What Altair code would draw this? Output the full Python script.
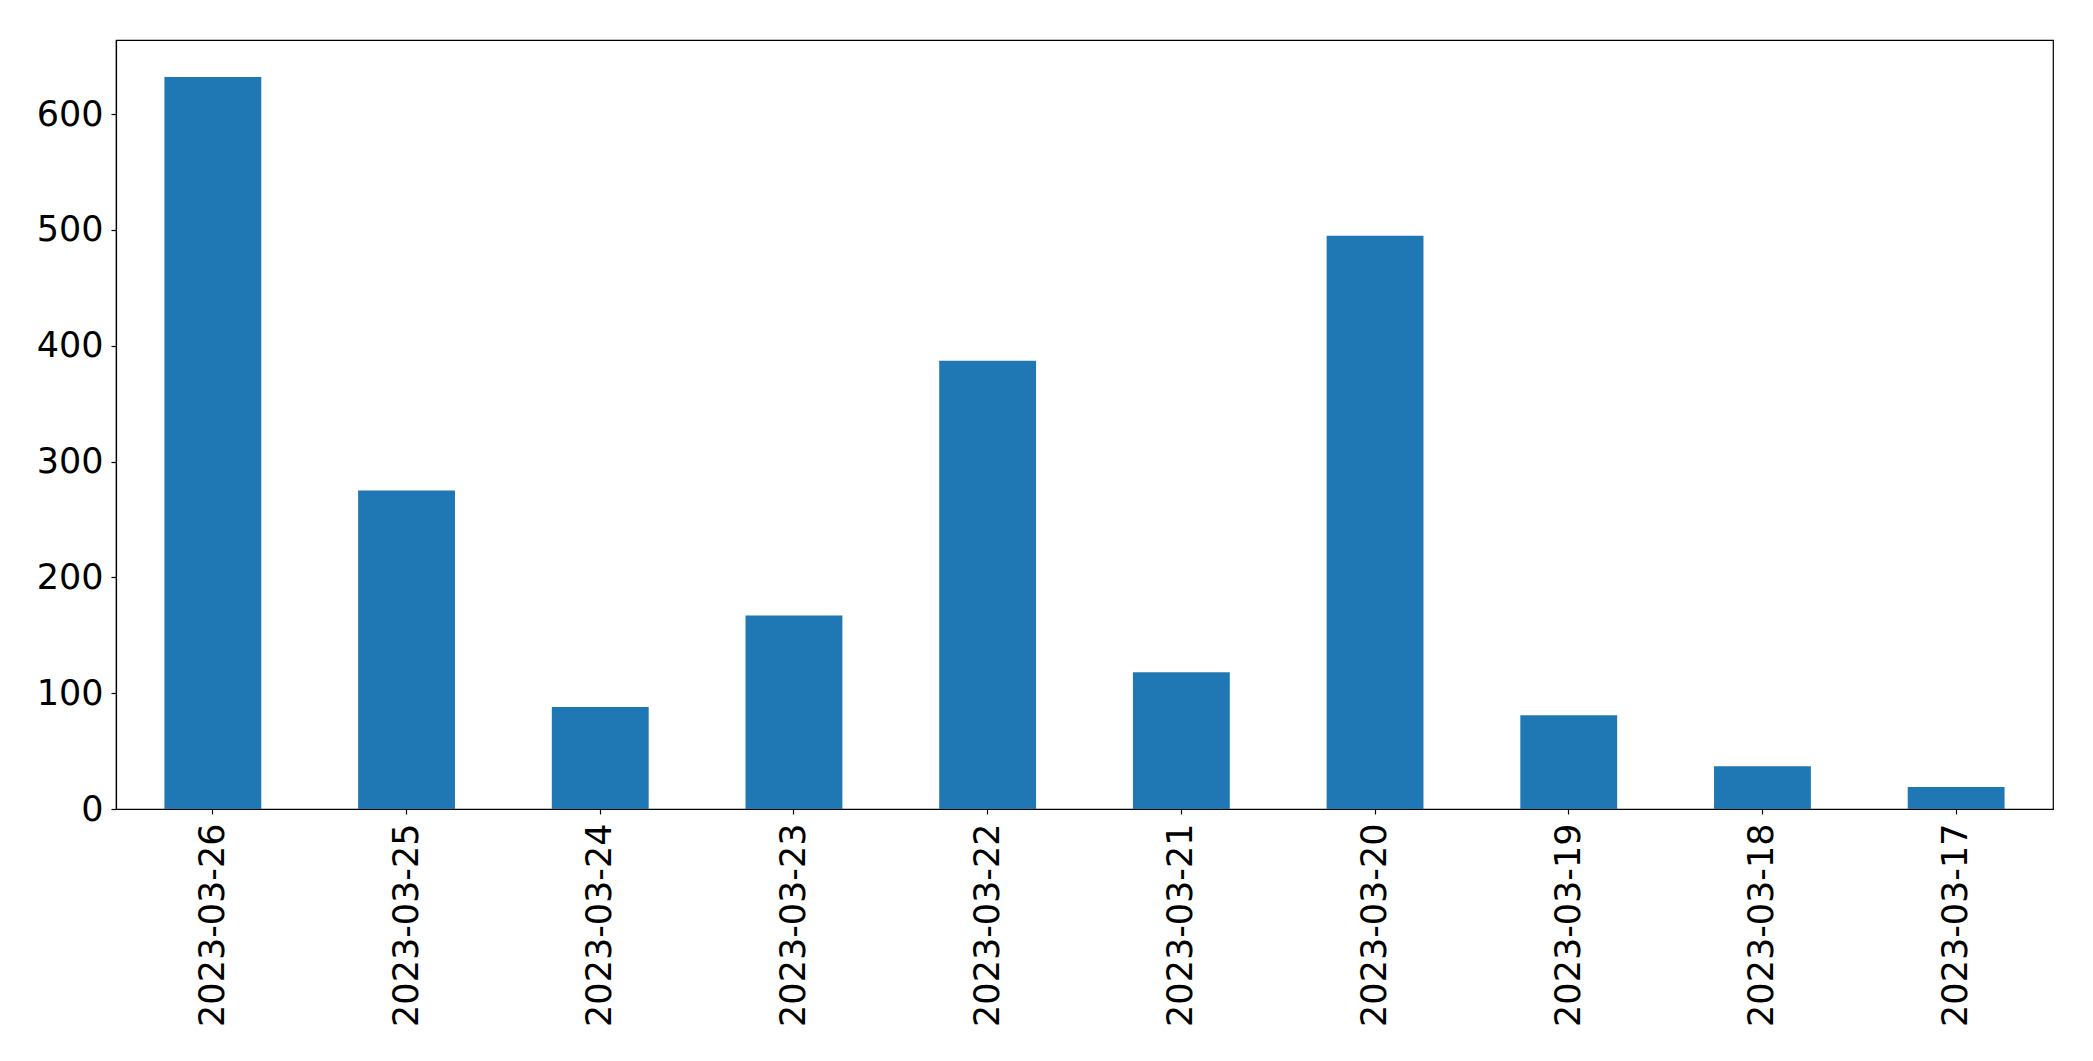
import altair as alt
import pandas as pd

dates = ["2023-03-26", "2023-03-25", "2023-03-24", "2023-03-23", "2023-03-22",
         "2023-03-21", "2023-03-20", "2023-03-19", "2023-03-18", "2023-03-17"]
counts = [632, 275, 88, 167, 387, 118, 495, 81, 37, 19]
y_ticks = [0, 100, 200, 300, 400, 500, 600]

df = pd.DataFrame({"date": dates, "count": counts})

FONT = "DejaVu Sans"
FS = 35

chart = alt.Chart(df).mark_bar(color="#1f77b4").encode(
    x=alt.X("date:N", sort=dates, title=None,
            scale=alt.Scale(paddingInner=0.5, paddingOuter=0.25),
            axis=alt.Axis(labelAngle=270, labelFontSize=FS, labelFont=FONT,
                          labelColor="black", tickColor="black", tickSize=5,
                          labelPadding=9, labelLimit=0, domainColor="black",
                          domainWidth=1.2, tickWidth=1.2, grid=False)),
    y=alt.Y("count:Q", title=None,
            scale=alt.Scale(domain=[0, 664], nice=False, zero=True),
            axis=alt.Axis(values=y_ticks, labelFontSize=FS, labelFont=FONT,
                          labelColor="black", tickColor="black", tickSize=5,
                          labelPadding=8, domainColor="black", domainWidth=1.2,
                          tickWidth=1.2, grid=False, format="d")),
).properties(
    width=1937,
    height=769,
    autosize=alt.AutoSizeParams(type="none"),
    padding={"left": 108, "top": 32, "right": 30, "bottom": 240},
).configure(
    background="white",
    view=alt.ViewConfig(stroke="black", strokeWidth=1.2),
)

chart.save("out.html", embed_options={"renderer": "svg", "actions": False})
